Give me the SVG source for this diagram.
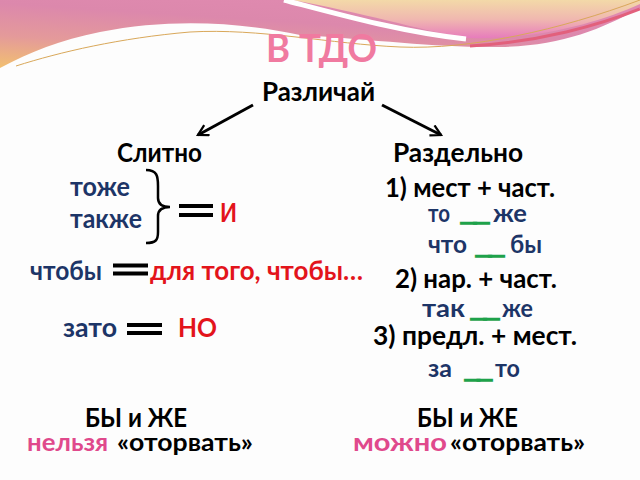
<svg xmlns="http://www.w3.org/2000/svg" width="640" height="480" viewBox="0 0 640 480">
<defs>
<linearGradient id="gPink" x1="0" y1="1" x2="0.6" y2="0">
<stop offset="0" stop-color="#f2c070"/>
<stop offset="0.35" stop-color="#e49a9a"/>
<stop offset="0.7" stop-color="#dc88ac"/>
<stop offset="1" stop-color="#e08ab0"/>
</linearGradient>
<linearGradient id="gPeach" x1="0" y1="0" x2="0" y2="1">
<stop offset="0" stop-color="#f3d9a8"/>
<stop offset="0.5" stop-color="#f0b8b0"/>
<stop offset="1" stop-color="#e77cbc"/>
</linearGradient>
<marker id="ah" viewBox="0 0 12 12" refX="10" refY="6" markerWidth="4.5" markerHeight="4.5" orient="auto" markerUnits="strokeWidth">
<path d="M1,1 L10,6 L1,11" fill="none" stroke="#000" stroke-width="2"/>
</marker>
<style>
text{font-family:Lato,"Liberation Sans","Noto Sans",sans-serif;font-weight:bold;font-size:26px;}
.k{fill:#000;}
.n{fill:#1d3567;}
.s{font-size:24px;}
.r{fill:#e3141b;}
.p{fill:#e0498c;}
.g{fill:#1ea24a;stroke:#1ea24a;stroke-width:1.4;font-size:18px;letter-spacing:-2px;}
.b{font-size:27px;}
.eq{stroke:#000;stroke-width:4;}
</style>
</defs>
<rect width="640" height="480" fill="#fdfdfd"/>
<g id="decor">
<path d="M0,0 H640 V8 C600,30 560,46 500,47 C440,48 380,40 300,35 C240,22 170,18 100,32 C60,40 30,52 0,68 Z" fill="url(#gPink)"/>
<path d="M292,0 H640 V4 C600,22 540,40 466,38 C420,30 360,12 292,0 Z" fill="url(#gPeach)"/>
<path d="M284,0 C330,12 400,32 466,39" fill="none" stroke="#fff" stroke-width="5"/>
<path d="M470,46 C540,42 600,25 640,9" fill="none" stroke="#e2607c" stroke-width="3"/>
<path d="M16,66 C60,52 120,38 190,32 C260,28 330,44 400,47 C470,50 560,30 640,0" fill="none" stroke="#d9a85a" stroke-width="1"/>
</g>
<g id="title"><text x="266" y="62" style="font-size:38px" fill="#f07aa0" textLength="111" lengthAdjust="spacingAndGlyphs">В ТДО</text></g>
<g id="root"><text class="k" x="262" y="101" textLength="113" lengthAdjust="spacingAndGlyphs">Различай</text></g>
<g id="connectors">
<line x1="253" y1="105" x2="198" y2="135" stroke="#000" stroke-width="3" marker-end="url(#ah)"/>
<line x1="382" y1="105" x2="441" y2="135" stroke="#000" stroke-width="3" marker-end="url(#ah)"/>
</g>
<g id="slitno"><text class="k" x="117" y="162" textLength="85" lengthAdjust="spacingAndGlyphs">Слитно</text></g>
<g id="razdelno"><text class="k" x="393" y="162" textLength="130" lengthAdjust="spacingAndGlyphs">Раздельно</text></g>
<g id="tozhe">
<text class="n" x="70" y="196" textLength="60" lengthAdjust="spacingAndGlyphs">тоже</text>
<text class="n" x="70" y="228" textLength="72" lengthAdjust="spacingAndGlyphs">также</text>
<path d="M146,170 C157,170 158,176 158,186 L158,198 C158,204 162,207 170,207 C162,207 158,210 158,216 L158,232 C158,240 156,243 146,243" fill="none" stroke="#000" stroke-width="2.5"/>
<line class="eq" x1="179" y1="206" x2="213" y2="206"/>
<line class="eq" x1="179" y1="215" x2="213" y2="215"/>
<text class="r" x="220" y="222" textLength="17" lengthAdjust="spacingAndGlyphs">И</text>
</g>
<g id="chtoby">
<text class="n" x="30" y="280" textLength="72" lengthAdjust="spacingAndGlyphs">чтобы</text>
<line class="eq" x1="113" y1="265.5" x2="148" y2="265.5"/>
<line class="eq" x1="113" y1="273.5" x2="148" y2="273.5"/>
<text class="r" x="150" y="280" textLength="213" lengthAdjust="spacingAndGlyphs">для того, чтобы…</text>
</g>
<g id="zato">
<text class="n" x="63" y="337" textLength="54" lengthAdjust="spacingAndGlyphs">зато</text>
<line class="eq" x1="127" y1="325" x2="162" y2="325"/>
<line class="eq" x1="127" y1="333" x2="162" y2="333"/>
<text class="r" x="178" y="337" textLength="39" lengthAdjust="spacingAndGlyphs">НО</text>
</g>
<g id="rule1">
<text class="k" x="385" y="197" textLength="170" lengthAdjust="spacingAndGlyphs">1) мест + част.</text>
<text class="n s" x="428" y="222" textLength="22" lengthAdjust="spacingAndGlyphs">то</text>
<text class="g" x="460" y="221" textLength="26" lengthAdjust="spacingAndGlyphs">__</text>
<text class="n s" x="493" y="222" textLength="34" lengthAdjust="spacingAndGlyphs">же</text>
<text class="n s" x="428" y="253" textLength="39" lengthAdjust="spacingAndGlyphs">что</text>
<text class="g" x="475" y="254" textLength="26" lengthAdjust="spacingAndGlyphs">__</text>
<text class="n s" x="510" y="253" textLength="32" lengthAdjust="spacingAndGlyphs">бы</text>
</g>
<g id="rule2">
<text class="k" x="395" y="288" textLength="162" lengthAdjust="spacingAndGlyphs">2) нар. + част.</text>
<text class="n s" x="422" y="317" textLength="43" lengthAdjust="spacingAndGlyphs">так</text>
<text class="g" x="470" y="317" textLength="26" lengthAdjust="spacingAndGlyphs">__</text>
<text class="n s" x="502" y="317" textLength="31" lengthAdjust="spacingAndGlyphs">же</text>
</g>
<g id="rule3">
<text class="k" x="373" y="345" textLength="204" lengthAdjust="spacingAndGlyphs">3) предл. + мест.</text>
<text class="n s" x="428" y="377" textLength="24" lengthAdjust="spacingAndGlyphs">за</text>
<text class="g" x="464" y="378" textLength="25" lengthAdjust="spacingAndGlyphs">__</text>
<text class="n s" x="495" y="377" textLength="25" lengthAdjust="spacingAndGlyphs">то</text>
</g>
<g id="note-left">
<text class="k b" x="85" y="427" textLength="102" lengthAdjust="spacingAndGlyphs">БЫ и ЖЕ</text>
<text class="p s" x="27" y="451" textLength="81" lengthAdjust="spacingAndGlyphs">нельзя</text>
<text class="k s" x="117" y="451" textLength="136" lengthAdjust="spacingAndGlyphs">«оторвать»</text>
</g>
<g id="note-right">
<text class="k b" x="417" y="427" textLength="101" lengthAdjust="spacingAndGlyphs">БЫ и ЖЕ</text>
<text class="p s" x="353" y="451" textLength="94" lengthAdjust="spacingAndGlyphs">можно</text>
<text class="k s" x="450" y="451" textLength="135" lengthAdjust="spacingAndGlyphs">«оторвать»</text>
</g>
</svg>
